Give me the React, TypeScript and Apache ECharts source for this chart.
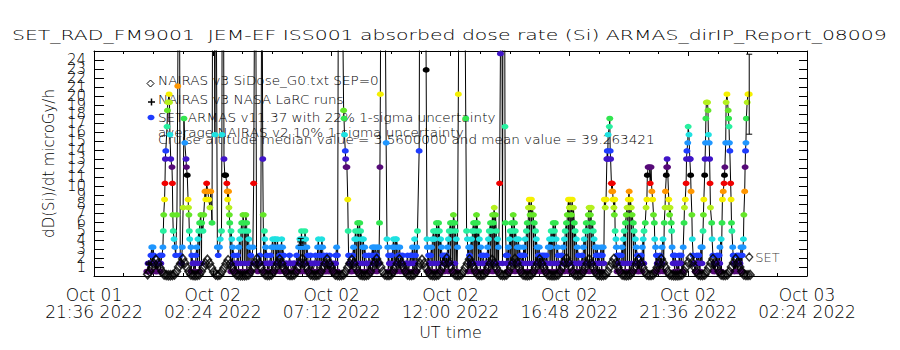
import React, { useEffect, useRef } from 'react';
import * as echarts from 'echarts';

// Time axis: minutes after 2022-10-01 21:36 UT
const START_UTC_MS = Date.UTC(2022, 9, 1, 21, 36, 0);
const X_MAX_MIN = 1728; // 28.8 h
const X_TICK_MIN = 288; // 4.8 h
const Y_MAX = 25;

const titleText = 'SET_RAD_FM9001  JEM-EF ISS001 absorbed dose rate (Si) ARMAS_dirIP_Report_08009';
const yAxisTitle = 'dD(Si)/dt microGy/h';
const xAxisTitle = 'UT time';
const legendTexts = [
  'NAIRAS v3 SiDose_G0.txt SEP=0',
  'NAIRAS v3 NASA LaRC runs',
  'SET ARMAS v11.37 with 22% 1-sigma uncertainty',
  'average NAIRAS v2 10% 1-sigma uncertainty',
  'Cruise altitude median value = 3.5600000 and mean value = 39.263421',
];

// SET ARMAS absorbed dose rate: [minutes after start, microGy/h]
const armas: [number, number][] = [
  [128,.5],[131,1.4],[133,.5],[136,1.4],[138,2.3],[140,3.2],[143,3.2],[145,2.3],[148,1.4],[150,.5],[152,1.4],[155,.5],[157,1.4],[160,2.3],[162,1.4],
  [165,2.3],[167,3.2],[168,5.0],[169,6.8],[171,8.5],[172,10.3],[173,13.0],[174,13.9],[177,16.6],[178,18.4],[179,19.3],[182,20.2],[183,19.3],[184,15.7],[186,13.0],[189,12.1],[190,10.3],[191,6.8],[192,5.0],[194,4.1],[196,3.2],[198,2.3],[201,6.8],[203,21.1],[206,55],[209,2.3],[212,1.4],[214,3.2],[216,7.6],[218,17.5],[220,14.8],[223,13.0],[224,12.1],[226,11.2],[228,8.5],[229,7.6],[230,6.8],[231,5.0],[232,4.1],[235,3.2],[237,2.3],[240,1.4],
  [242,.5],[244,1.4],[247,2.3],[249,3.2],[252,4.1],[254,5.0],[256,5.9],[259,6.8],[261,5.9],[264,5.0],[266,6.8],[269,9.4],[271,8.5],[273,10.3],[276,9.4],[278,8.5],[281,7.6],[283,9.4],[286,5.9],
  [289,60],[293,15.7],[295,45],[299,3.2],[301,2.3],[304,3.2],[306,4.1],[309,5.0],[310,15.7],[312,70],[315,13.0],[317,11.2],[319,11.2],[322,10.3],[323,9.4],[324,8.5],[326,9.4],[327,7.6],[328,6.8],[329,5.9],[332,5.0],[334,4.1],[336,3.2],[339,2.3],[341,1.4],
  [344,.5],[346,1.4],[348,2.3],[351,3.2],[353,4.1],[356,5.0],[358,5.9],[361,6.8],[363,5.9],[365,5.0],[368,6.8],[370,5.9],[373,5.0],[375,4.1],[377,3.2],[380,2.3],[382,1.4],[385,3.2],
  [387,10.3],[391,50],[394,1.4],[397,.5],[399,1.4],[402,2.3],[404,1.4],[407,40],[409,13.0],[410,6.8],[413,5.0],[414,4.1],[416,3.2],[419,2.3],[421,1.4],
  [424,.5],[426,1.4],[428,2.3],[431,3.2],[433,4.1],[436,3.2],[438,4.1],[440,4.1],[443,3.2],[445,4.1],[448,3.2],[450,2.3],[453,3.2],[455,4.1],[457,3.2],[460,2.3],[462,1.4],[465,.5],[467,1.4],[470,.5],[472,1.4],[474,2.3],[477,1.4],[479,.5],[482,1.4],[484,.5],[486,1.4],[489,.5],[491,2.3],[494,1.4],[496,3.2],[499,4.1],[501,3.2],[503,5.0],[506,4.1],[508,3.2],[511,5.0],[513,4.1],[516,3.2],[518,2.3],[520,.5],[523,1.4],[525,2.3],[528,.5],[530,1.4],[532,.5],[535,1.4],[537,2.3],[540,1.4],[542,3.2],[544,4.1],[547,2.3],[549,3.2],[552,4.1],[554,3.2],[557,2.3],[559,.5],[561,1.4],[564,2.3],[566,.5],[569,1.4],[571,2.3],[574,.5],[576,1.4],[578,.5],[581,1.4],[583,.5],[586,2.3],[588,3.2],[590,2.3],
  [594,70],[605,18.4],[606,17.5],[607,15.7],[609,13.9],[610,13.0],[611,12.1],[613,12.1],[615,8.5],[616,5.0],[617,2.3],[620,1.4],[622,.5],
  [624,1.4],[627,2.3],[629,3.2],[632,4.1],[634,5.0],[637,4.1],[639,5.9],[641,5.0],[644,5.9],[646,5.0],[649,4.1],[651,3.2],[653,4.1],[656,3.2],[658,2.3],[661,1.4],[663,.5],[666,2.3],[668,1.4],[670,.5],[673,2.3],[675,3.2],[678,3.2],[680,2.3],[682,3.2],[685,2.3],[687,3.2],[690,3.2],
  [692,5.9],[693,12.1],[694,20.2],[699,80],[708,14.8],[710,4.1],[712,3.2],[714,2.3],[716,1.4],
  [719,.5],[721,2.3],[724,3.2],[726,4.1],[728,3.2],[731,4.1],[733,4.1],[736,3.2],[738,2.3],[741,3.2],[743,2.3],[745,1.4],[748,2.3],[750,.5],[753,1.4],[755,.5],[758,1.4],[760,2.3],[762,.5],[765,1.4],[767,2.3],
  [770,2.3],[772,3.2],[774,1.4],[777,4.1],[779,2.3],[782,3.2],[784,5.0],[788,13.9],[791,60],[797,90],[805,22.9],[807,4.1],[808,3.2],[811,2.3],
  [813,1.4],[816,2.3],[818,3.2],[820,4.1],[823,5.0],[825,4.1],[828,5.0],[830,5.9],[833,5.0],[835,5.9],[837,5.0],[840,4.1],[842,3.2],[845,2.3],[847,1.4],[849,2.3],[852,1.4],[854,2.3],[857,3.2],[859,4.1],[861,5.0],[864,5.9],[866,5.0],[869,5.9],[871,6.8],[874,5.9],[876,5.0],[878,4.1],[881,3.2],
  [883,20.2],[888,70],[895,60],[901,17.5],[903,5.0],[905,4.1],[908,3.2],[910,2.3],
  [912,3.2],[915,4.1],[917,5.0],[920,5.9],[922,5.0],[924,5.9],[927,6.8],[929,5.9],[932,5.0],[934,4.1],[937,3.2],[939,2.3],[941,1.4],[944,2.3],[946,.5],[949,1.4],[951,2.3],[954,3.2],[956,4.1],[958,5.0],[961,5.9],[963,5.0],[966,6.8],[968,5.9],[970,7.6],[973,6.8],[975,5.0],[978,4.1],[980,3.2],
  [983,10.3],[985,24.7],[987,70],[990,1.4],[993,80],[996,16.6],[997,5.9],[999,2.3],[1000,1.4],
  [1002,2.3],[1004,3.2],[1007,4.1],[1009,5.0],[1012,5.9],[1014,5.0],[1016,6.8],[1019,5.9],[1021,5.0],[1024,4.1],[1026,3.2],[1029,4.1],[1031,3.2],[1033,2.3],[1036,1.4],[1038,2.3],[1041,3.2],[1043,2.3],[1045,4.1],[1048,5.0],[1050,5.9],[1053,7.6],[1055,8.5],[1057,6.8],[1060,8.5],[1062,7.6],[1065,6.8],[1067,5.9],[1070,5.0],[1072,4.1],[1074,3.2],[1077,2.3],[1079,3.2],[1082,2.3],[1084,1.4],[1087,2.3],[1089,.5],[1091,2.3],[1094,1.4],[1096,2.3],
  [1099,.5],[1101,3.2],[1104,4.1],[1106,3.2],[1108,5.0],[1111,4.1],[1113,5.9],[1116,5.0],[1118,5.9],[1120,4.1],[1123,3.2],[1125,2.3],[1128,1.4],[1130,.5],[1133,2.3],[1135,1.4],[1137,3.2],[1140,4.1],[1142,5.0],[1145,5.9],[1147,6.8],[1150,8.5],[1152,7.6],[1154,8.5],[1157,6.8],[1159,8.5],[1162,7.6],[1164,5.9],[1166,5.0],[1169,4.1],[1171,3.2],[1174,2.3],[1176,1.4],[1178,.5],[1181,1.4],[1183,2.3],[1186,3.2],[1188,4.1],[1191,5.0],[1193,5.9],[1195,5.0],[1198,6.8],[1200,7.6],[1203,6.8],[1205,7.6],[1208,5.9],[1210,5.0],[1212,4.1],[1215,3.2],[1217,2.3],[1220,3.2],[1222,2.3],[1224,1.4],
  [1227,2.3],[1229,3.2],[1232,2.3],[1234,3.2],[1237,8.5],[1239,7.6],[1241,8.5],[1243,13.0],[1244,13.9],[1245,13.0],[1246,15.7],[1249,16.6],[1250,17.5],[1251,13.9],[1252,13.0],[1254,10.3],[1255,9.4],[1256,10.3],[1257,9.4],[1258,8.5],[1260,7.6],[1261,6.8],[1262,8.5],[1263,5.0],[1265,4.1],[1266,3.2],[1268,2.3],[1271,1.4],[1273,2.3],
  [1275,1.4],[1278,2.3],[1280,3.2],[1283,4.1],[1285,5.0],[1288,5.9],[1290,6.8],[1292,7.6],[1295,8.5],[1297,9.4],[1300,8.5],[1302,7.6],[1304,6.8],[1307,5.9],[1309,5.0],[1312,4.1],[1314,3.2],[1317,2.3],[1319,1.4],[1321,.5],[1324,1.4],
  [1326,2.3],[1329,3.2],[1331,4.1],[1333,5.0],[1336,5.9],[1338,7.6],[1340,8.5],[1341,11.2],[1343,12.1],[1346,12.1],[1348,10.3],[1350,12.1],[1352,9.4],[1354,8.5],[1356,6.8],[1358,5.9],[1359,4.1],[1361,3.2],[1363,2.3],[1365,1.4],[1367,.5],[1370,1.4],[1372,2.3],
  [1375,1.4],[1377,3.2],[1379,4.1],[1382,5.9],[1384,7.6],[1385,9.4],[1387,11.2],[1388,12.1],[1389,13.0],[1390,12.1],[1393,8.5],[1394,7.6],[1395,6.8],[1396,7.6],[1399,5.9],[1400,5.0],[1401,3.2],[1404,2.3],[1406,1.4],[1408,2.3],[1411,1.4],[1413,.5],[1416,1.4],[1418,2.3],
  [1420,1.4],[1423,2.3],[1425,.5],[1428,3.2],[1430,5.9],[1431,7.6],[1433,8.5],[1435,10.3],[1436,13.0],[1437,13.9],[1439,14.8],[1440,16.6],[1442,15.7],[1444,13.0],[1445,13.0],[1446,11.2],[1447,9.4],[1449,6.8],[1450,4.1],[1452,2.3],[1454,1.4],[1457,.5],[1459,1.4],[1461,2.3],
  [1464,1.4],[1466,2.3],[1469,.5],[1471,3.2],[1474,3.2],[1476,5.0],[1477,6.8],[1478,8.5],[1480,11.2],[1481,13.0],[1482,14.8],[1483,17.5],[1484,19.3],[1487,19.3],[1488,18.4],[1489,15.7],[1491,14.8],[1492,13.0],[1493,10.3],[1494,7.6],[1497,5.9],[1498,4.1],[1500,2.3],[1503,1.4],[1505,.5],[1508,1.4],[1510,2.3],
  [1513,1.4],[1515,2.3],[1517,3.2],[1520,4.1],[1522,5.9],[1523,8.5],[1525,9.4],[1527,10.3],[1528,11.2],[1529,12.1],[1531,14.8],[1532,19.3],[1534,20.2],[1537,18.4],[1538,17.5],[1539,16.6],[1540,14.8],[1541,13.9],[1543,10.3],[1544,8.5],[1545,5.9],[1546,5.0],[1548,3.2],[1549,2.3],[1551,1.4],[1554,.5],[1556,1.4],[1558,2.3],
  [1561,1.4],[1563,2.3],[1566,.5],[1568,3.2],[1571,2.3],[1573,3.2],[1574,4.1],[1575,6.8],[1577,9.4],[1578,12.1],[1579,13.9],[1580,14.8],[1581,17.5],[1583,19.3],[1585,20.2],[1588,20.2],
];

// SET ARMAS low-dose readings between the passes: [minutes after start, microGy/h]
const armasQuiet: [number, number][] = [
  [130.5,.5],[135.5,1.4],[140.5,.5],[145.5,1.4],[150.5,.5],[155.5,1.4],[160.5,.5],
  [235.5,.5],[240.5,1.4],[245.5,.5],[250.5,1.4],[255.5,.5],[260.5,1.4],
  [331.5,.5],[335.5,1.4],[340.5,.5],[345.5,1.4],[350.5,.5],[355.5,1.4],[360.5,.5],[365.5,1.4],[370.5,.5],[375.5,1.4],[380.5,.5],
  [411.5,.5],[415.5,1.4],[420.5,.5],[425.5,1.4],[430.5,.5],[435.5,1.4],[440.5,.5],[445.5,1.4],[450.5,.5],[455.5,1.4],[460.5,.5],[465.5,1.4],[470.5,.5],[475.5,1.4],[480.5,.5],[485.5,1.4],[490.5,.5],[495.5,1.4],[500.5,.5],[505.5,1.4],[510.5,.5],[515.5,1.4],[520.5,.5],[525.5,1.4],[530.5,.5],[535.5,1.4],[540.5,.5],[545.5,1.4],[550.5,.5],[555.5,1.4],[560.5,.5],[565.5,1.4],[570.5,.5],[575.5,1.4],[580.5,.5],[585.5,1.4],[590.5,.5],
  [618.5,1.4],[625.5,.5],[630.5,1.4],[635.5,.5],[640.5,1.4],[645.5,.5],[650.5,1.4],[655.5,.5],[660.5,1.4],[665.5,.5],[670.5,1.4],[675.5,.5],[680.5,1.4],[685.5,.5],[690.5,1.4],
  [713.5,.5],[717.5,1.4],[722.5,.5],[727.5,1.4],[732.5,.5],[737.5,1.4],[742.5,.5],[747.5,1.4],[752.5,.5],[757.5,1.4],[762.5,.5],[767.5,1.4],[772.5,.5],[777.5,1.4],[782.5,.5],
  [809.5,.5],[814.5,1.4],[819.5,.5],[824.5,1.4],[829.5,.5],[834.5,1.4],[839.5,.5],[844.5,1.4],[849.5,.5],[854.5,1.4],[859.5,.5],[864.5,1.4],[869.5,.5],[874.5,1.4],[879.5,.5],
  [906.5,.5],[911.5,1.4],[916.5,.5],[921.5,1.4],[926.5,.5],[931.5,1.4],[936.5,.5],[941.5,1.4],[946.5,.5],[951.5,1.4],[956.5,.5],[961.5,1.4],[966.5,.5],[971.5,1.4],[976.5,.5],[980.5,1.4],
  [1001.5,.5],[1005.5,1.4],[1010.5,.5],[1015.5,1.4],[1020.5,.5],[1025.5,1.4],[1030.5,.5],[1035.5,1.4],[1040.5,.5],[1045.5,1.4],[1050.5,.5],[1055.5,1.4],[1060.5,.5],[1065.5,1.4],[1070.5,.5],[1075.5,1.4],[1080.5,.5],[1085.5,1.4],[1090.5,.5],[1095.5,1.4],[1100.5,.5],[1105.5,1.4],[1110.5,.5],[1115.5,1.4],[1120.5,.5],[1125.5,1.4],[1130.5,.5],[1135.5,1.4],[1140.5,.5],[1145.5,1.4],[1150.5,.5],[1155.5,1.4],[1160.5,.5],[1165.5,1.4],[1170.5,.5],[1175.5,1.4],[1180.5,.5],[1185.5,1.4],[1190.5,.5],[1195.5,1.4],[1200.5,.5],[1205.5,1.4],[1210.5,.5],[1215.5,1.4],[1220.5,.5],[1225.5,1.4],[1230.5,.5],[1235.5,1.4],
  [1267.5,.5],[1272.5,1.4],[1277.5,.5],[1282.5,1.4],[1287.5,.5],[1292.5,1.4],[1297.5,.5],[1302.5,1.4],[1307.5,.5],[1312.5,1.4],[1317.5,.5],[1322.5,1.4],[1327.5,.5],[1332.5,1.4],
  [1362.5,.5],[1366.5,1.4],[1371.5,.5],[1376.5,1.4],[1380.5,.5],
  [1403.5,1.4],[1407.5,.5],[1412.5,1.4],[1417.5,.5],[1422.5,1.4],[1427.5,.5],
  [1453.5,1.4],[1458.5,.5],[1463.5,1.4],[1468.5,.5],[1473.5,1.4],
  [1501.5,.5],[1506.5,1.4],[1511.5,.5],[1516.5,1.4],[1520.5,.5],
  [1550.5,.5],[1555.5,1.4],[1560.5,.5],[1565.5,1.4],[1570.5,.5],
];
const armasSigma = 0.22;

// NAIRAS v3 model dose rate, regular 5-minute grid
const nairasStartMin = 130;
const nairasStepMin = 5;
const nairasDose: number[] = [
  0.2,0.5,0.9,1.4,1.8,1.4,0.9,0.5,0.15, 0.1,0.08,0.08,0.1,
  0.15,0.5,1.0,1.4,1.9,1.45,0.95,0.5,0.15, 0.1,0.08,0.1,
  0.15,0.5,0.95,1.4,1.8,1.4,0.9,0.45,0.15, 0.1,
  0.15,0.5,0.9,1.35,1.75,1.35,0.9,0.5,0.15, 0.1,0.08,0.07,0.08,0.1,
  0.15,0.5,0.95,1.45,1.9,1.45,0.95,0.5,0.15, 0.1,0.1,
  0.15,0.5,0.95,1.4,1.85,1.4,0.9,0.5,0.15, 0.1,0.1,
  0.15,0.5,1.0,1.45,1.9,1.4,0.95,0.5,0.15, 0.1,0.08,0.1,
  0.15,0.5,0.95,1.4,1.85,1.4,0.95,0.5,0.15, 0.1,0.08,0.1,
  0.15,0.5,0.95,1.4,1.8,1.4,0.9,0.5,0.15, 0.1,0.08,0.1,
  0.15,0.5,1.0,1.45,1.9,1.45,1.0,0.5,0.15, 0.1,0.1,
  0.15,0.5,0.95,1.4,1.85,1.4,0.95,0.5,0.15, 0.1,0.1,
  0.15,0.5,0.95,1.4,1.8,1.4,0.9,0.5,0.15, 0.1,0.08,0.1,
  0.15,0.55,1.0,1.5,1.95,1.5,1.0,0.5,0.15, 0.1,0.1,
  0.15,0.5,0.95,1.4,1.85,1.4,0.95,0.5,0.15, 0.1,0.1,
  0.15,0.5,0.95,1.4,1.8,1.4,0.9,0.5,0.15, 0.1,0.1,
  0.15,0.5,1.0,1.45,1.9,1.45,0.95,0.5,0.15, 0.1,0.08,0.1,
  0.15,0.5,0.95,1.4,1.85,1.4,0.95,0.5,0.15, 0.1,0.08,0.08,0.1,
  0.15,0.55,1.0,1.5,1.95,1.5,1.0,0.5,0.15, 0.1,0.1,
  0.15,0.5,0.95,1.4,1.85,1.4,0.95,0.5,0.15, 0.1,0.08,0.1,
  0.15,0.5,1.0,1.45,1.9,1.45,0.95,0.5,0.15, 0.1,0.08,0.1,
  0.15,0.5,0.95,1.4,1.85,1.4,0.95,0.5,0.15, 0.1,0.1,
  0.15,0.5,0.95,1.45,1.9,1.45,0.95,0.5,0.15, 0.1,0.08,0.07,0.08,0.1,
  0.15,0.55,1.0,1.5,2.0,1.5,1.0,0.5,0.15, 0.1,0.1,
  0.15,0.5,0.95,1.45,1.9,1.45,0.95,0.5,0.15, 0.1,0.1,
  0.15,0.5,1.0,1.45,1.9,1.45,1.0,0.5,0.15, 0.1,0.1,0.12,
];

// NAIRAS v3 NASA LaRC runs: [minutes after start, microGy/h]
const larcRuns: [number, number][] = [[133, 1.4], [501, 3.8], [1225, 0.6]];
const larcSigma = 0.10;

// "SET" end marker
const setMarker: [number, number][] = [[1588, 2.1]];

// colour ladder used for the ARMAS dose levels
const levelPalette = ['#000000', '#560a78', '#4014c8', '#1e3cff', '#1e96ff', '#1ee1e1', '#28f0a0', '#32e650', '#64e628', '#b4f01e', '#f5f000', '#ff9600', '#f00000'];
const LEVEL_BASE = 0.48;
const LEVEL_STEP = 0.896;

const FONT = '"DejaVu Sans", "Liberation Sans", sans-serif';
const FW = 200;
const MONTHS = ['Jan', 'Feb', 'Mar', 'Apr', 'May', 'Jun', 'Jul', 'Aug', 'Sep', 'Oct', 'Nov', 'Dec'];

function armasColor(v: number) {
  const n = Math.round((v - LEVEL_BASE) / LEVEL_STEP) + 1;
  return levelPalette[((n % 13) + 13) % 13];
}

function fmtTime(min: number) {
  const d = new Date(START_UTC_MS + min * 60000);
  const p = (n: number) => String(n).padStart(2, '0');
  return `${MONTHS[d.getUTCMonth()]} ${p(d.getUTCDate())}\n${p(d.getUTCHours())}:${p(d.getUTCMinutes())} ${d.getUTCFullYear()}`;
}

function textWidth(text: string, size: number) {
  const ctx = document.createElement('canvas').getContext('2d');
  if (!ctx) return text.length * size * 0.6;
  ctx.font = `${FW} ${size}px ${FONT}`;
  return ctx.measureText(text).width;
}

function buildOption() {
  const titleSize = 14.5;
  const titleScale = 875 / textWidth(titleText, titleSize);
  const legSize = 13;
  const legScale = 497 / textWidth(legendTexts[4], legSize);
  const legY = [81, 100, 118, 133, 140];

  const armasAll = [...armas, ...armasQuiet].sort((a, b) => a[0] - b[0]);
  const last = armas[armas.length - 1];
  const errBars: number[][] = [
    [last[0], last[1] * (1 - armasSigma), last[1] * (1 + armasSigma)],
    ...larcRuns.map(([t, v]) => [t, v * (1 - larcSigma), v * (1 + larcSigma)]),
  ];

  const axisLineStyle = { color: '#000', width: 1 };
  const textBase = { color: '#000', fontFamily: FONT, fontWeight: FW };

  const graphic: any[] = [
    { type: 'text', x: 12, y: 35, scaleX: titleScale, silent: true,
      style: { text: titleText, fontSize: titleSize, fontFamily: FONT, fontWeight: FW, fill: '#000', verticalAlign: 'middle' } },
    { type: 'polygon', silent: true, shape: { points: [[150.5, 80], [154, 83.5], [150.5, 87], [147, 83.5]] }, style: { fill: 'none', stroke: '#000', lineWidth: 1 } },
    { type: 'line', silent: true, shape: { x1: 148, y1: 102, x2: 155, y2: 102 }, style: { stroke: '#000', lineWidth: 1.5 } },
    { type: 'line', silent: true, shape: { x1: 151.5, y1: 98.5, x2: 151.5, y2: 105.5 }, style: { stroke: '#000', lineWidth: 1.5 } },
    { type: 'ellipse', silent: true, shape: { cx: 151, cy: 117.5, rx: 3.5, ry: 2.8 }, style: { fill: levelPalette[3] } },
    ...legendTexts.map((t, i) => ({
      type: 'text', x: 158, y: legY[i], scaleX: legScale, silent: true,
      style: { text: t, fontSize: legSize, fontFamily: FONT, fontWeight: FW, fill: '#000', verticalAlign: 'middle' },
    })),
  ];

  return {
    animation: false,
    backgroundColor: '#ffffff',
    grid: { left: 94, right: 93, top: 51, bottom: 74, containLabel: false },
    xAxis: [
      {
        type: 'value', position: 'bottom', min: 0, max: X_MAX_MIN, interval: X_TICK_MIN,
        axisLine: { show: true, onZero: false, lineStyle: axisLineStyle },
        axisTick: { show: true, inside: true, length: 5, lineStyle: axisLineStyle },
        minorTick: { show: true, splitNumber: 4, length: 3, lineStyle: axisLineStyle },
        splitLine: { show: false },
        axisLabel: { ...textBase, formatter: fmtTime, fontSize: 17, lineHeight: 17, margin: 10 },
        name: xAxisTitle, nameLocation: 'middle', nameGap: 46,
        nameTextStyle: { ...textBase, fontSize: 16 },
      },
      {
        type: 'value', position: 'top', min: 0, max: X_MAX_MIN, interval: X_TICK_MIN,
        axisLine: { show: true, onZero: false, lineStyle: axisLineStyle },
        axisTick: { show: true, inside: true, length: 5, lineStyle: axisLineStyle },
        minorTick: { show: true, splitNumber: 4, length: 3, lineStyle: axisLineStyle },
        splitLine: { show: false },
        axisLabel: { show: false },
      },
    ],
    yAxis: [
      {
        type: 'value', position: 'left', min: 0, max: Y_MAX, interval: 1,
        axisLine: { show: true, onZero: false, lineStyle: axisLineStyle },
        axisTick: { show: true, inside: true, length: 10, lineStyle: axisLineStyle },
        splitLine: { show: false },
        axisLabel: { ...textBase, fontSize: 15, margin: 8, padding: [0, 0, 4, 0],
          formatter: (v: number) => (v >= Y_MAX ? '' : String(v)) },
        name: yAxisTitle, nameLocation: 'middle', nameGap: 38, nameRotate: 90,
        nameTextStyle: { ...textBase, fontSize: 15 },
      },
      {
        type: 'value', position: 'right', min: 0, max: Y_MAX, interval: 1,
        axisLine: { show: true, onZero: false, lineStyle: axisLineStyle },
        axisTick: { show: true, inside: true, length: 8, lineStyle: axisLineStyle },
        splitLine: { show: false },
        axisLabel: { show: false },
      },
    ],
    series: [
      {
        name: 'SET ARMAS', type: 'line', xAxisIndex: 0, yAxisIndex: 0, z: 2,
        clip: true, showAllSymbol: true, symbol: 'circle', symbolSize: [7, 5.5],
        lineStyle: { color: '#000', width: 1 },
        itemStyle: { borderWidth: 0 },
        data: armasAll.map(([t, v]) => ({ value: [t, v], itemStyle: { color: armasColor(v) } })),
        silent: true,
      },
      {
        name: 'NAIRAS v3', type: 'scatter', xAxisIndex: 0, yAxisIndex: 0, z: 3,
        symbol: 'diamond', symbolSize: [8, 9],
        itemStyle: { color: 'rgba(0,0,0,0)', borderColor: '#000', borderWidth: 1.6 },
        data: nairasDose.map((v, i) => [nairasStartMin + i * nairasStepMin, v]),
        silent: true,
      },
      {
        name: 'NASA LaRC', type: 'scatter', xAxisIndex: 0, yAxisIndex: 0, z: 4,
        symbol: 'path://M5,0L5,10M0,5L10,5', symbolSize: 7,
        itemStyle: { color: 'rgba(0,0,0,0)', borderColor: '#000', borderWidth: 1.3 },
        data: larcRuns,
        silent: true,
      },
      {
        name: 'uncertainty', type: 'custom', xAxisIndex: 0, yAxisIndex: 0, z: 5,
        data: errBars, encode: { x: 0, y: [1, 2] }, silent: true,
        renderItem: (_p: any, api: any) => {
          const t = api.value(0);
          const top = api.coord([t, api.value(2)]);
          const bot = api.coord([t, api.value(1)]);
          const hw = 3;
          const style = { stroke: '#000', lineWidth: 1, fill: 'none' };
          return {
            type: 'group',
            children: [
              { type: 'line', shape: { x1: top[0], y1: top[1], x2: bot[0], y2: bot[1] }, style },
              { type: 'line', shape: { x1: top[0] - hw, y1: top[1], x2: top[0] + hw, y2: top[1] }, style },
              { type: 'line', shape: { x1: bot[0] - hw, y1: bot[1], x2: bot[0] + hw, y2: bot[1] }, style },
            ],
          };
        },
      },
      {
        name: 'SET', type: 'scatter', xAxisIndex: 0, yAxisIndex: 0, z: 4,
        symbol: 'diamond', symbolSize: [7, 8],
        itemStyle: { color: 'rgba(0,0,0,0)', borderColor: '#000', borderWidth: 1.3 },
        label: { show: true, position: 'right', distance: 2, formatter: 'SET', ...textBase, fontSize: 13 },
        data: setMarker,
        silent: true,
      },
    ],
    graphic,
  };
}

export default function App() {
  const ref = useRef<HTMLDivElement>(null);
  useEffect(() => {
    document.body.style.margin = '0';
    const el = ref.current;
    if (!el) return;
    const chart = echarts.init(el, undefined, { renderer: 'svg' });
    chart.setOption(buildOption() as any);
    return () => chart.dispose();
  }, []);
  return <div ref={ref} style={{ width: 900, height: 350, background: '#fff' }} />;
}
